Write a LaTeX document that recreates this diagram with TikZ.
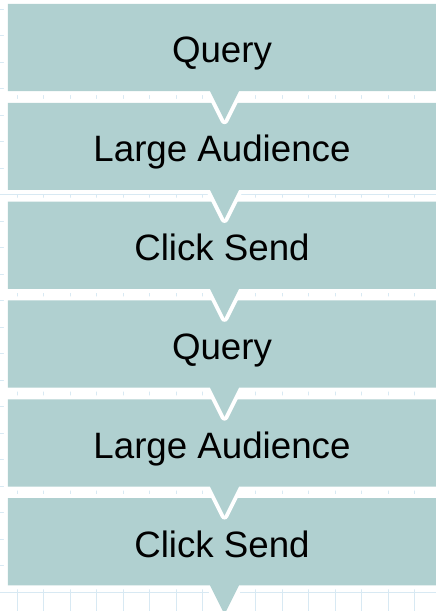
\documentclass[tikz,border=0pt]{standalone}
\usepackage{fontspec}
\setmainfont{Liberation Sans}
\definecolor{stepfill}{RGB}{176,208,208}
\definecolor{gridline}{RGB}{216,233,243}
\tikzset{
  steptext/.style={anchor=base, font=\fontsize{36.7}{44}\selectfont, text=black, inner sep=0pt},
  gridrule/.style={gridline, line width=0.8pt},
  stepedge/.style={white, line width=8pt, line join=round},
}
\begin{document}
\begin{tikzpicture}[x=1pt,y=-1pt]
\useasboundingbox (0,0) rectangle (436,611);
\clip (0,0) rectangle (436,611);
\fill[white] (0,0) rectangle (436,611);
% light background grid
\foreach \k in {0,...,16}
  \draw[gridrule] ({17+26.5*\k},0) -- ({17+26.5*\k},611);
\foreach \k in {0,...,22}
  \draw[gridrule] (0,{9.1+26.5*\k}) -- (436,{9.1+26.5*\k});
% process steps, drawn from the last one up so each pointer lies over the step below it
\foreach \i/\t in {5/Click Send,4/Large Audience,3/Query,2/Click Send,1/Large Audience,0/Query}{
  \pgfmathsetmacro\ytop{3.9+98.85*\i}
  \pgfmathsetmacro\ybot{\ytop+87.2}
  \pgfmathsetmacro\ytip{\ybot+29}
  \draw[stepedge] (7.8,\ytop) -- (440,\ytop) -- (440,\ybot) -- (239,\ybot) -- (224.5,\ytip) -- (210,\ybot) -- (7.8,\ybot) -- cycle;
  \fill[stepfill] (7.8,\ytop) -- (440,\ytop) -- (440,\ybot) -- (239,\ybot) -- (224.5,\ytip) -- (210,\ybot) -- (7.8,\ybot) -- cycle;
  \node[steptext] (step\i) at (222,\ytop+59) {\t};
}
\end{tikzpicture}
\end{document}
